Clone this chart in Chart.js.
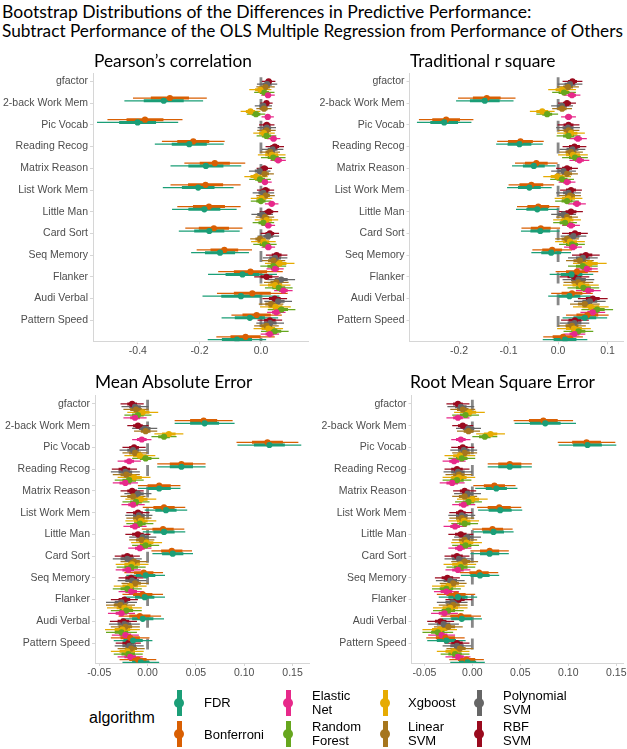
<!DOCTYPE html>
<html><head><meta charset="utf-8">
<script src="https://cdn.jsdelivr.net/npm/chart.js@4.4.1/dist/chart.umd.min.js"></script>
<style>
html,body{margin:0;padding:0;background:#fff;}
body{width:627px;height:749px;position:relative;overflow:hidden;}
.t{position:absolute;white-space:nowrap;color:#000;}
canvas{position:absolute;}
.key{position:absolute;}
</style></head>
<body>
<canvas id="c0" width="313" height="300" style="left:0px;top:66px"></canvas>
<canvas id="c1" width="314" height="300" style="left:313px;top:66px"></canvas>
<canvas id="c2" width="313" height="300" style="left:0px;top:389px"></canvas>
<canvas id="c3" width="314" height="300" style="left:313px;top:389px"></canvas>
<script>
// ---------------- DATA ----------------
const categories = ["gfactor","2-back Work Mem","Pic Vocab","Reading Recog","Matrix Reason","List Work Mem","Little Man","Card Sort","Seq Memory","Flanker","Audi Verbal","Pattern Speed"];
const algorithms = ["FDR","Bonferroni","Elastic Net","Random Forest","Xgboost","Linear SVM","Polynomial SVM","RBF SVM"];
const legendLabels = [["FDR"],["Bonferroni"],["Elastic","Net"],["Random","Forest"],["Xgboost"],["Linear","SVM"],["Polynomial","SVM"],["RBF","SVM"]];
const panelTitles = ["Pearson\u2019s correlation","Traditional r square","Mean Absolute Error","Root Mean Square Error"];

const pearsonTicks = [-0.4,-0.2,0.0];
const pearsonTickLabels = ["-0.4","-0.2","0.0"];
const rsqTicks = [-0.2,-0.1,0.0,0.1];
const rsqTickLabels = ["-0.2","-0.1","0.0","0.1"];
const errTicks = [-0.05,0.0,0.05,0.10,0.15];
const errTickLabels = ["-0.05","0.00","0.05","0.10","0.15"];

// rows: FDR, Bonferroni, Elastic Net, Random Forest, Xgboost, Linear SVM, Polynomial SVM, RBF SVM
const pearsonMid = [
 [-0.316,-0.401,-0.233,-0.179,-0.204,-0.184,-0.168,-0.133,-0.060,-0.065,-0.036,-0.078],
 [-0.296,-0.377,-0.220,-0.150,-0.180,-0.169,-0.153,-0.119,-0.034,-0.028,-0.014,-0.050],
 [0.023,0.022,0.041,0.056,0.013,0.035,0.024,0.024,0.046,0.073,0.050,0.029],
 [0.011,-0.016,0.018,0.040,-0.003,0.000,0.008,0.013,0.040,0.058,0.067,0.045],
 [-0.002,-0.034,0.010,0.035,-0.016,0.002,0.018,0.008,0.061,0.046,0.047,0.024],
 [0.015,0.010,0.018,0.030,0.012,0.015,0.013,-0.003,0.041,0.050,0.033,0.018],
 [0.020,0.008,0.019,0.038,-0.004,0.008,0.004,0.024,0.046,0.066,0.056,0.030],
 [0.025,0.018,0.019,0.045,0.011,0.015,0.026,0.029,0.051,0.018,0.045,0.029]
];
const pearsonW95 = [
 [0.128,0.132,0.112,0.115,0.115,0.105,0.099,0.094,0.112,0.125,0.092,0.095],
 [0.120,0.122,0.102,0.099,0.114,0.103,0.093,0.090,0.105,0.115,0.082,0.095],
 [0.022,0.020,0.022,0.025,0.022,0.022,0.022,0.022,0.028,0.030,0.030,0.030],
 [0.033,0.030,0.032,0.040,0.035,0.033,0.035,0.038,0.042,0.045,0.045,0.045],
 [0.036,0.032,0.035,0.045,0.038,0.035,0.038,0.040,0.048,0.050,0.050,0.048],
 [0.030,0.025,0.030,0.032,0.030,0.030,0.030,0.032,0.038,0.040,0.040,0.040],
 [0.033,0.028,0.030,0.035,0.035,0.035,0.035,0.035,0.040,0.045,0.045,0.045],
 [0.022,0.020,0.025,0.030,0.025,0.028,0.030,0.030,0.035,0.040,0.040,0.040]
];
const pearsonW66 = [
 [0.065,0.060,0.057,0.057,0.053,0.052,0.049,0.049,0.055,0.064,0.049,0.049],
 [0.062,0.060,0.052,0.049,0.057,0.052,0.049,0.045,0.054,0.060,0.046,0.049],
 [0.010,0.009,0.010,0.012,0.010,0.010,0.010,0.010,0.013,0.014,0.014,0.014],
 [0.015,0.014,0.015,0.018,0.016,0.015,0.016,0.017,0.019,0.021,0.021,0.021],
 [0.017,0.015,0.016,0.021,0.018,0.016,0.018,0.019,0.022,0.023,0.023,0.022],
 [0.014,0.012,0.014,0.015,0.014,0.014,0.014,0.015,0.018,0.019,0.019,0.019],
 [0.015,0.013,0.014,0.016,0.016,0.016,0.016,0.016,0.019,0.021,0.021,0.021],
 [0.010,0.009,0.012,0.014,0.012,0.013,0.014,0.014,0.016,0.019,0.019,0.019]
];

const rsqMid = [
 [-0.148,-0.230,-0.078,-0.049,-0.058,-0.042,-0.036,-0.014,0.027,0.023,0.054,0.014],
 [-0.144,-0.226,-0.076,-0.044,-0.054,-0.040,-0.035,-0.012,0.038,0.028,0.059,0.010],
 [0.028,0.021,0.040,0.043,0.018,0.038,0.026,0.030,0.058,0.061,0.070,0.033],
 [0.012,-0.022,0.021,0.034,0.008,0.018,0.014,0.028,0.050,0.051,0.079,0.041],
 [0.008,-0.032,0.026,0.030,-0.002,0.021,0.018,0.024,0.064,0.046,0.066,0.032],
 [0.020,0.008,0.021,0.026,0.018,0.024,0.018,0.018,0.044,0.041,0.054,0.028],
 [0.024,0.008,0.020,0.029,0.011,0.021,0.011,0.031,0.050,0.041,0.064,0.033],
 [0.029,0.018,0.021,0.033,0.018,0.026,0.026,0.034,0.056,0.033,0.070,0.034]
];
const rsqW95 = [
 [0.058,0.055,0.047,0.044,0.045,0.043,0.039,0.040,0.044,0.043,0.045,0.045],
 [0.058,0.055,0.047,0.043,0.046,0.043,0.039,0.040,0.043,0.042,0.043,0.040],
 [0.017,0.015,0.018,0.020,0.017,0.018,0.018,0.018,0.022,0.025,0.025,0.022],
 [0.024,0.022,0.024,0.026,0.024,0.024,0.024,0.026,0.030,0.032,0.032,0.030],
 [0.028,0.025,0.028,0.030,0.028,0.028,0.028,0.030,0.034,0.036,0.036,0.034],
 [0.022,0.020,0.022,0.024,0.022,0.022,0.022,0.024,0.028,0.030,0.030,0.028],
 [0.025,0.022,0.024,0.026,0.025,0.025,0.025,0.026,0.030,0.032,0.032,0.030],
 [0.020,0.018,0.022,0.024,0.022,0.022,0.024,0.026,0.028,0.030,0.030,0.028]
];
const rsqW66 = [
 [0.030,0.028,0.024,0.022,0.023,0.022,0.020,0.020,0.022,0.022,0.023,0.023],
 [0.028,0.028,0.025,0.023,0.024,0.022,0.020,0.020,0.022,0.021,0.022,0.021],
 [0.008,0.007,0.008,0.009,0.008,0.008,0.008,0.008,0.010,0.011,0.011,0.010],
 [0.011,0.010,0.011,0.012,0.011,0.011,0.011,0.012,0.014,0.015,0.015,0.014],
 [0.013,0.012,0.013,0.014,0.013,0.013,0.013,0.014,0.016,0.017,0.017,0.016],
 [0.010,0.009,0.010,0.011,0.010,0.010,0.010,0.011,0.013,0.014,0.014,0.013],
 [0.011,0.010,0.011,0.012,0.011,0.011,0.011,0.012,0.014,0.015,0.015,0.014],
 [0.009,0.008,0.010,0.011,0.010,0.010,0.011,0.012,0.013,0.014,0.014,0.013]
];

const maeMid = [
 [0.059,0.126,0.035,0.012,0.019,0.017,0.026,-0.002,-0.003,-0.005,-0.015,-0.007],
 [0.058,0.124,0.035,0.012,0.017,0.016,0.025,-0.004,-0.005,-0.008,-0.018,-0.010],
 [-0.013,-0.006,-0.019,-0.023,-0.015,-0.013,-0.008,-0.020,-0.017,-0.027,-0.023,-0.018],
 [-0.010,0.017,-0.002,-0.019,-0.012,-0.008,-0.002,-0.017,-0.021,-0.022,-0.027,-0.020],
 [-0.005,0.022,-0.008,-0.014,-0.007,-0.007,-0.001,-0.016,-0.018,-0.024,-0.026,-0.021],
 [-0.012,-0.002,-0.013,-0.022,-0.015,-0.009,-0.006,-0.014,-0.013,-0.028,-0.023,-0.017],
 [-0.013,-0.003,-0.015,-0.023,-0.010,-0.009,-0.005,-0.021,-0.016,-0.027,-0.024,-0.019],
 [-0.016,-0.010,-0.014,-0.024,-0.016,-0.010,-0.010,-0.021,-0.017,-0.024,-0.025,-0.020]
];
const maeW95 = [
 [0.031,0.033,0.025,0.022,0.022,0.022,0.021,0.020,0.021,0.022,0.020,0.019],
 [0.030,0.032,0.025,0.022,0.022,0.022,0.021,0.020,0.021,0.022,0.020,0.019],
 [0.012,0.010,0.012,0.013,0.012,0.012,0.012,0.013,0.013,0.014,0.014,0.013],
 [0.014,0.013,0.014,0.015,0.014,0.014,0.014,0.015,0.015,0.016,0.016,0.015],
 [0.016,0.015,0.016,0.017,0.016,0.016,0.016,0.017,0.017,0.018,0.018,0.017],
 [0.013,0.012,0.013,0.014,0.013,0.013,0.013,0.014,0.014,0.015,0.015,0.014],
 [0.014,0.013,0.014,0.015,0.014,0.014,0.014,0.015,0.015,0.016,0.016,0.015],
 [0.012,0.011,0.012,0.013,0.012,0.012,0.013,0.013,0.013,0.014,0.014,0.013]
];
const maeW66 = [
 [0.015,0.016,0.012,0.012,0.011,0.011,0.011,0.010,0.010,0.011,0.010,0.009],
 [0.014,0.016,0.012,0.012,0.011,0.011,0.011,0.010,0.010,0.011,0.010,0.009],
 [0.005,0.005,0.005,0.006,0.005,0.005,0.005,0.006,0.006,0.006,0.006,0.006],
 [0.006,0.006,0.006,0.007,0.006,0.006,0.006,0.007,0.007,0.007,0.007,0.007],
 [0.007,0.007,0.007,0.008,0.007,0.007,0.007,0.008,0.008,0.008,0.008,0.008],
 [0.006,0.005,0.006,0.006,0.006,0.006,0.006,0.006,0.006,0.007,0.007,0.006],
 [0.006,0.006,0.006,0.007,0.006,0.006,0.006,0.007,0.007,0.007,0.007,0.007],
 [0.005,0.005,0.005,0.006,0.005,0.005,0.006,0.006,0.006,0.006,0.006,0.006]
];

const rmseMid = [
 [0.076,0.120,0.039,0.025,0.029,0.022,0.018,0.008,-0.015,-0.011,-0.027,-0.005],
 [0.074,0.119,0.039,0.023,0.028,0.021,0.018,0.007,-0.017,-0.012,-0.028,-0.006],
 [-0.015,-0.012,-0.019,-0.021,-0.009,-0.018,-0.013,-0.015,-0.027,-0.029,-0.032,-0.015],
 [-0.007,0.013,-0.011,-0.016,-0.004,-0.008,-0.007,-0.012,-0.027,-0.025,-0.036,-0.018],
 [-0.003,0.019,-0.013,-0.014,0.000,-0.009,-0.006,-0.013,-0.025,-0.023,-0.034,-0.020],
 [-0.010,-0.004,-0.008,-0.014,-0.008,-0.011,-0.008,-0.008,-0.020,-0.020,-0.025,-0.013],
 [-0.012,-0.004,-0.009,-0.015,-0.005,-0.011,-0.005,-0.014,-0.023,-0.021,-0.030,-0.016],
 [-0.015,-0.010,-0.010,-0.016,-0.008,-0.012,-0.012,-0.016,-0.026,-0.014,-0.033,-0.016]
];
const rmseW95 = [
 [0.032,0.030,0.023,0.022,0.023,0.021,0.020,0.020,0.020,0.021,0.020,0.018],
 [0.031,0.030,0.023,0.022,0.023,0.021,0.020,0.020,0.020,0.021,0.020,0.018],
 [0.012,0.010,0.012,0.013,0.012,0.012,0.012,0.013,0.013,0.014,0.014,0.013],
 [0.014,0.013,0.014,0.015,0.014,0.014,0.014,0.015,0.015,0.016,0.016,0.015],
 [0.016,0.015,0.016,0.017,0.016,0.016,0.016,0.017,0.017,0.018,0.018,0.017],
 [0.013,0.012,0.013,0.014,0.013,0.013,0.013,0.014,0.014,0.015,0.015,0.014],
 [0.014,0.013,0.014,0.015,0.014,0.014,0.014,0.015,0.015,0.016,0.016,0.015],
 [0.012,0.011,0.012,0.013,0.012,0.012,0.013,0.013,0.013,0.014,0.014,0.013]
];
const rmseW66 = [
 [0.016,0.015,0.012,0.011,0.012,0.011,0.010,0.010,0.010,0.011,0.010,0.009],
 [0.015,0.015,0.012,0.011,0.012,0.011,0.010,0.010,0.010,0.011,0.010,0.009],
 [0.005,0.005,0.005,0.006,0.005,0.005,0.005,0.006,0.006,0.006,0.006,0.006],
 [0.006,0.006,0.006,0.007,0.006,0.006,0.006,0.007,0.007,0.007,0.007,0.007],
 [0.007,0.007,0.007,0.008,0.007,0.007,0.007,0.008,0.008,0.008,0.008,0.008],
 [0.006,0.005,0.006,0.006,0.006,0.006,0.006,0.006,0.006,0.007,0.007,0.006],
 [0.006,0.006,0.006,0.007,0.006,0.006,0.006,0.007,0.007,0.007,0.007,0.007],
 [0.005,0.005,0.005,0.006,0.005,0.005,0.006,0.006,0.006,0.006,0.006,0.006]
];

// ---------------- STYLE / LAYOUT ----------------
const COLORS = ['#1B9E77','#D95F02','#E7298A','#66A61E','#E6AB02','#A6761D','#666666','#9A0A1E'];
const DODGE = 0.127;
const AXIS_FONT = {family:"'Liberation Sans', Arial, sans-serif", size:10.5};
const AXIS_COLOR = '#4d4d4d';
const LINE_COLOR = '#d6d6d6';

const panels = [
 {id:'c0', mid:pearsonMid, w95:pearsonW95, w66:pearsonW66, ticks:pearsonTicks, labels:pearsonTickLabels, xmin:-0.546, xmax:0.153, w:313, h:300, area:{l:93, r:308, t:7, b:275.3}, ymin:-0.39, ymax:11.97},
 {id:'c1', mid:rsqMid, w95:rsqW95, w66:rsqW66, ticks:rsqTicks, labels:rsqTickLabels, xmin:-0.30, xmax:0.131, w:314, h:300, area:{l:96.5, r:312, t:7, b:275.3}, ymin:-0.39, ymax:11.97},
 {id:'c2', mid:maeMid, w95:maeW95, w66:maeW66, ticks:errTicks, labels:errTickLabels, xmin:-0.0544, xmax:0.167, w:313, h:300, area:{l:95, r:311, t:6.5, b:274}, ymin:-0.39, ymax:11.92},
 {id:'c3', mid:rmseMid, w95:rmseW95, w66:rmseW66, ticks:errTicks, labels:errTickLabels, xmin:-0.0634, xmax:0.157, w:314, h:300, area:{l:98.5, r:312, t:6.5, b:274}, ymin:-0.39, ymax:11.92}
];

function buildPanel(p){
  const datasets = [];
  datasets.push({type:'line', data:[{x:0,y:p.ymin},{x:0,y:p.ymax}], borderColor:'#878787', borderWidth:2.8,
    borderDash:[11,10.7], borderDashOffset:17.4, pointRadius:0, showLine:true, order:1000});
  algorithms.forEach((a,k)=>{
    const j = algorithms.length-1-k;
    const thin=[], thick=[], pts=[];
    p.mid[k].forEach((m,i)=>{
      const y = i + j*DODGE;
      thin.push({x:m-p.w95[k][i], y}, {x:m+p.w95[k][i], y}, {x:null, y:null});
      thick.push({x:m-p.w66[k][i], y}, {x:m+p.w66[k][i], y}, {x:null, y:null});
      pts.push({x:m, y});
    });
    datasets.push({type:'line', data:thin, borderColor:COLORS[k], borderWidth:1.25, pointRadius:0, showLine:true, spanGaps:false, borderCapStyle:'butt', order:300});
    datasets.push({type:'line', data:thick, borderColor:COLORS[k], borderWidth:3.0, pointRadius:0, showLine:true, spanGaps:false, borderCapStyle:'butt', order:200});
    datasets.push({type:'scatter', data:pts, backgroundColor:COLORS[k], borderWidth:0, pointRadius:3.1, order:100});
  });
  new Chart(document.getElementById(p.id), {
    type:'scatter',
    data:{datasets},
    options:{
      responsive:false, animation:false, events:[],
      plugins:{legend:{display:false}, tooltip:{enabled:false}},
      layout:{padding:{left:0, top:p.area.t, right:p.w-p.area.r, bottom:0}},
      scales:{
        x:{type:'linear', min:p.xmin, max:p.xmax,
          afterBuildTicks:s=>{s.ticks = p.ticks.map(v=>({value:v}));},
          afterFit:s=>{s.height = p.h - p.area.b; s.paddingLeft=0; s.paddingRight=0;},
          ticks:{callback:(v,i)=>p.labels[i], font:AXIS_FONT, color:AXIS_COLOR, padding:1, maxRotation:0, autoSkip:false},
          grid:{display:true, drawOnChartArea:false, drawTicks:true, tickLength:3, color:LINE_COLOR},
          border:{display:true, color:LINE_COLOR, width:1}},
        y:{type:'linear', reverse:true, min:p.ymin, max:p.ymax,
          afterBuildTicks:s=>{s.ticks = categories.map((c,i)=>({value:i}));},
          afterFit:s=>{s.width = p.area.l; s.paddingTop=0; s.paddingBottom=0;},
          ticks:{callback:(v,i)=>categories[i], font:AXIS_FONT, color:AXIS_COLOR, padding:2, autoSkip:false},
          grid:{display:true, drawOnChartArea:false, drawTicks:true, tickLength:3, color:LINE_COLOR},
          border:{display:true, color:LINE_COLOR, width:1}}
      }
    }
  });
}
panels.forEach(buildPanel);

// ---------------- TEXT ----------------
const mctx = document.createElement('canvas').getContext('2d');
function placeText(txt, family, size, x, baseline, targetW){
  mctx.font = size+'px '+family;
  let m = mctx.measureText(txt);
  if (targetW){ size = size*targetW/m.width; mctx.font = size+'px '+family; m = mctx.measureText(txt); }
  const A = m.fontBoundingBoxAscent, D = m.fontBoundingBoxDescent;
  const d = document.createElement('div');
  d.className = 't'; d.textContent = txt;
  d.style.fontFamily = family; d.style.fontSize = size+'px'; d.style.lineHeight = size+'px';
  d.style.left = x+'px'; d.style.top = (baseline - A - (size - A - D)/2)+'px';
  document.body.appendChild(d);
}
const TF = "Lato";
placeText("Bootstrap Distributions of the Differences in Predictive Performance:", TF, 16, 2, 18, 530);
placeText("Subtract Performance of the OLS Multiple Regression from Performance of Others", TF, 16, 2, 37, 622);
placeText(panelTitles[0], TF, 16, 94, 67, 158);
placeText(panelTitles[1], TF, 16, 410, 67, 146);
placeText(panelTitles[2], TF, 16, 95, 388, 158);
placeText(panelTitles[3], TF, 16, 410, 388, 185);

// legend
const LF = "'Liberation Sans', Arial, sans-serif";
placeText("algorithm", LF, 16, 89, 723.7);
const colKeyX = [179, 288, 385, 479];
const colTextX = [204, 312, 408, 503];
const rowY = [702.7, 734];
algorithms.forEach((a,k)=>{
  const col = Math.floor(k/2), row = k%2;
  const cx = colKeyX[col], cy = rowY[row];
  const bar = document.createElement('div');
  bar.className='key';
  Object.assign(bar.style,{left:(cx-2.5)+'px', top:(cy-13)+'px', width:'5px', height:'26px', background:COLORS[k]});
  document.body.appendChild(bar);
  const dot = document.createElement('div');
  dot.className='key';
  Object.assign(dot.style,{left:(cx-5)+'px', top:(cy-5)+'px', width:'10px', height:'10px', borderRadius:'50%', background:COLORS[k]});
  document.body.appendChild(dot);
  const lines = legendLabels[k];
  if (lines.length===1) placeText(lines[0], LF, 13, colTextX[col], cy+4.7);
  else { placeText(lines[0], LF, 13, colTextX[col], cy-3); placeText(lines[1], LF, 13, colTextX[col], cy+11); }
});
</script>
</body></html>
